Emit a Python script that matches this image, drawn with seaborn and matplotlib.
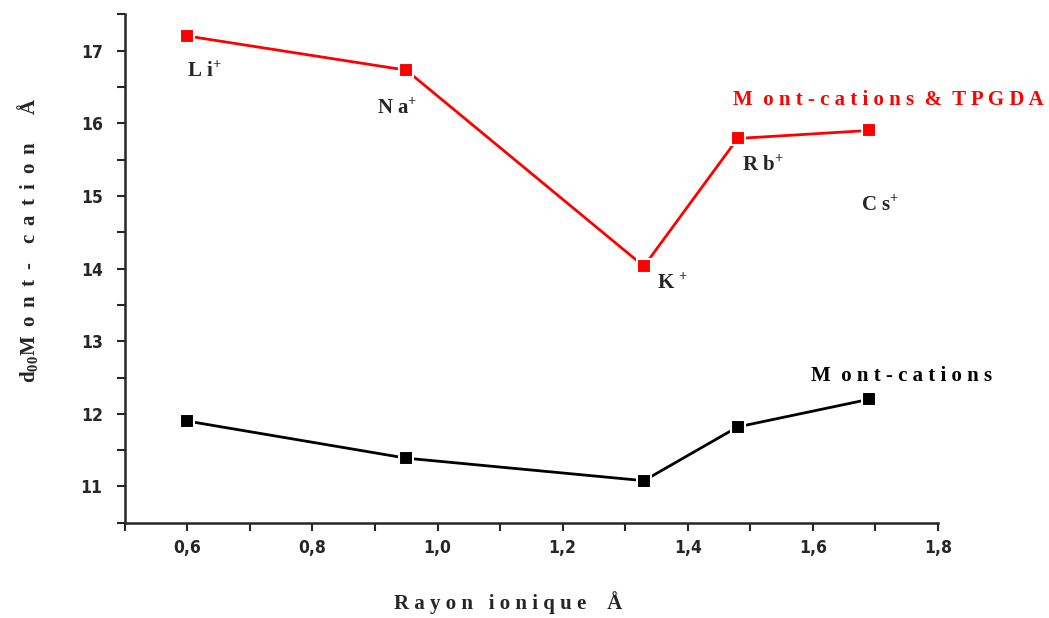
import numpy as np
import pandas as pd
import seaborn as sns
import matplotlib.pyplot as plt
from matplotlib.ticker import MultipleLocator, FuncFormatter

# ionic radius of the cations (Angstrom)
rayon = [0.60, 0.95, 1.33, 1.48, 1.69]
cations = ['L i', 'N a', 'K ', 'R b', 'C s']

# d001 spacing (Angstrom)
d_tpgda = [17.20, 16.73, 14.03, 15.79, 15.90]
d_mont = [11.90, 11.39, 11.08, 11.82, 12.20]

# where the cation names sit (data coords, left edge / baseline)
lab_x = [0.600, 0.904, 1.351, 1.487, 1.677]
lab_y = [16.63, 16.12, 13.72, 15.34, 14.79]

df = pd.DataFrame({
    'rayon': rayon * 2,
    'd': d_tpgda + d_mont,
    'serie': ['Mont-cations & TPGDA'] * 5 + ['Mont-cations'] * 5,
})

sns.set_style('ticks')
plt.rcParams['font.family'] = ['Liberation Serif', 'DejaVu Serif']

fig, ax = plt.subplots(figsize=(10.49, 6.18), dpi=100)
fig.subplots_adjust(left=0.119, right=0.894, top=0.977, bottom=0.154)

sns.lineplot(data=df, x='rayon', y='d', hue='serie',
             palette={'Mont-cations & TPGDA': '#ff0000', 'Mont-cations': '#000000'},
             marker='s', markersize=9.5, markeredgecolor='white', markeredgewidth=1.5,
             linewidth=2, legend=False, ax=ax)

ax.set_xlim(0.5, 1.8)
ax.set_ylim(10.5, 17.5)
ax.xaxis.set_major_locator(MultipleLocator(0.2))
ax.xaxis.set_minor_locator(MultipleLocator(0.1))
ax.yaxis.set_major_locator(MultipleLocator(1))
ax.yaxis.set_minor_locator(MultipleLocator(0.5))
ax.xaxis.set_major_formatter(FuncFormatter(lambda v, p: f'{v:.1f}'.replace('.', ',') if v > 0.55 else ''))
ax.yaxis.set_major_formatter(FuncFormatter(lambda v, p: f'{v:.0f}' if v > 10.9 else ''))
ax.tick_params(which='both', direction='out', width=1.5, length=6, labelsize=12.5)
ax.tick_params(axis='y', pad=10)
ax.tick_params(axis='x', pad=6)
for lab in ax.get_xticklabels() + ax.get_yticklabels():
    lab.set_family(['DejaVu Sans'])
    lab.set_fontstretch('condensed')
    lab.set_fontweight('bold')
for s in ['left', 'bottom']:
    ax.spines[s].set_linewidth(1.8)
sns.despine(ax=ax)

ax.set_xlabel('R a y o n   i o n i q u e    Å', fontsize=15, fontweight='bold', labelpad=30)
ax.xaxis.set_label_coords(0.472, -0.135)
sp = ' \u2009'
ylab = r'd$_{\mathregular{00}}$M' + sp + sp.join('ont') + sp + '-' + sp + sp + sp.join('cation') + sp + sp + sp + 'Å'
ax.set_ylabel(ylab, fontsize=15, fontweight='bold')
ax.yaxis.set_label_coords(-0.103, 0.556)

# cation labels
for x, y, name in zip(lab_x, lab_y, cations):
    ax.text(x, y, name + r'$^{\mathregular{+}}$', fontsize=15, fontweight='bold', ha='left')

ax.text(1.97, 16.25, 'M  o n t - c a t i o n s  &  T P G D A', color='#ff0000', fontsize=15,
        fontweight='bold', ha='right')
ax.text(1.887, 12.45, 'M  o n t - c a t i o n s', color='black', fontsize=15,
        fontweight='bold', ha='right')

plt.savefig('out.png')
